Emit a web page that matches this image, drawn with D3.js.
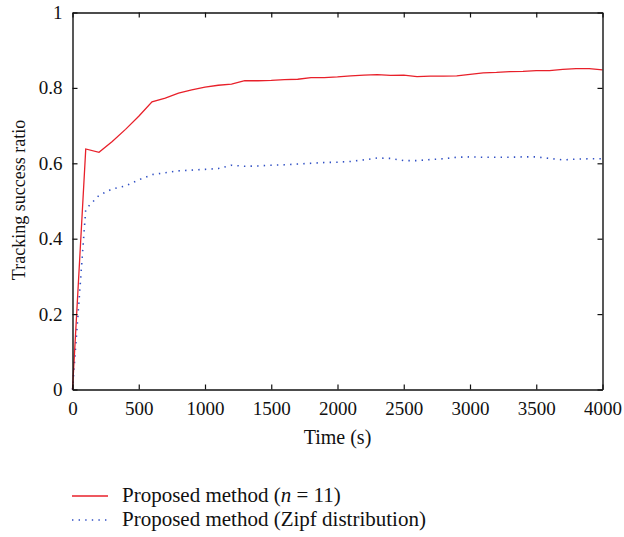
<!DOCTYPE html>
<html>
<head>
<meta charset="UTF-8">
<title>Tracking success ratio</title>
<script src="https://cdnjs.cloudflare.com/ajax/libs/d3/7.8.5/d3.min.js"></script>
<style>
  body { margin: 0; background: #fff; }
  text { font-family: "Liberation Serif", "DejaVu Serif", serif; fill: #111; }
</style>
</head>
<body>
<svg id="chart" width="624" height="537"></svg>
<script>
// time in seconds
var times = [0, 100, 200, 300, 400, 500, 600, 700, 800, 900, 1000,
  1100, 1200, 1300, 1400, 1500, 1600, 1700, 1800, 1900, 2000,
  2100, 2200, 2300, 2400, 2500, 2600, 2700, 2800, 2900, 3000,
  3100, 3200, 3300, 3400, 3500, 3600, 3700, 3800, 3900, 4000];

var proposedN11 = [0, 0.638, 0.629, 0.658, 0.690, 0.725, 0.763, 0.773, 0.786, 0.795, 0.802,
  0.807, 0.810, 0.819, 0.819, 0.820, 0.822, 0.823, 0.827, 0.827, 0.829,
  0.832, 0.834, 0.835, 0.833, 0.834, 0.830, 0.831, 0.831, 0.832, 0.836,
  0.840, 0.841, 0.843, 0.844, 0.846, 0.846, 0.849, 0.851, 0.851, 0.848];

var proposedZipf = [0, 0.478, 0.515, 0.532, 0.540, 0.556, 0.570, 0.575, 0.580, 0.582, 0.584,
  0.586, 0.595, 0.592, 0.593, 0.595, 0.596, 0.598, 0.600, 0.602, 0.603,
  0.605, 0.609, 0.614, 0.613, 0.607, 0.607, 0.610, 0.612, 0.616, 0.617,
  0.616, 0.616, 0.616, 0.617, 0.617, 0.613, 0.609, 0.611, 0.612, 0.612];

var xTicks = [0, 500, 1000, 1500, 2000, 2500, 3000, 3500, 4000];
var yTicks = [0, 0.2, 0.4, 0.6, 0.8, 1];
var seriesNames = ["Proposed method (n = 11)", "Proposed method (Zipf distribution)"];

var svg = d3.select("#chart");
var plotLeft = 72.5, plotRight = 602.5, plotTop = 12.5, plotBottom = 389.5;

var x = d3.scaleLinear().domain([0, 4000]).range([plotLeft, plotRight]);
var y = d3.scaleLinear().domain([0, 1]).range([plotBottom, plotTop]);

// lines
var line = d3.line()
  .x(function (d) { return x(d[0]); })
  .y(function (d) { return y(d[1]); });

svg.append("path")
  .datum(d3.zip(times, proposedZipf))
  .attr("d", line)
  .attr("fill", "none")
  .attr("stroke", "#2f4fc4")
  .attr("stroke-width", 1.6)
  .attr("stroke-dasharray", "1.4,5.2");

svg.append("path")
  .datum(d3.zip(times, proposedN11))
  .attr("d", line)
  .attr("fill", "none")
  .attr("stroke", "#e8202a")
  .attr("stroke-width", 1.3);

// axes, ticks inside on all sides
var fmtY = function (d) { return d === 0 || d === 1 ? String(d) : d.toFixed(1); };

svg.append("g")
  .attr("transform", "translate(0," + plotBottom + ")")
  .call(d3.axisBottom(x).tickValues(xTicks).tickSizeInner(-5).tickSizeOuter(0).tickPadding(12).tickFormat(d3.format("d")));
svg.append("g")
  .attr("transform", "translate(0," + plotTop + ")")
  .call(d3.axisTop(x).tickValues(xTicks).tickSizeInner(-5).tickSizeOuter(0).tickFormat(""));
svg.append("g")
  .attr("transform", "translate(" + plotLeft + ",0)")
  .call(d3.axisLeft(y).tickValues(yTicks).tickSizeInner(-5).tickSizeOuter(0).tickPadding(10).tickFormat(fmtY));
svg.append("g")
  .attr("transform", "translate(" + plotRight + ",0)")
  .call(d3.axisRight(y).tickValues(yTicks).tickSizeInner(-5).tickSizeOuter(0).tickFormat(""));

svg.selectAll(".domain").attr("stroke", "#111").attr("stroke-width", 1.4);
svg.selectAll(".tick line").attr("stroke", "#111").attr("stroke-width", 1.2);
svg.selectAll(".tick text")
  .style("font-family", "'Liberation Serif', 'DejaVu Serif', serif")
  .style("font-size", "19px")
  .attr("fill", "#111");

// axis titles
svg.append("text")
  .attr("x", (plotLeft + plotRight) / 2)
  .attr("y", 444)
  .attr("text-anchor", "middle")
  .style("font-size", "20px")
  .text("Time (s)");

svg.append("text")
  .attr("transform", "translate(25,200) rotate(-90)")
  .attr("text-anchor", "middle")
  .style("font-size", "18px")
  .text("Tracking success ratio");

// legend
var legend = svg.append("g");
var legendY = [496, 520];
legend.append("line")
  .attr("x1", 72).attr("x2", 108).attr("y1", legendY[0]).attr("y2", legendY[0])
  .attr("stroke", "#e8202a").attr("stroke-width", 1.3);
legend.append("line")
  .attr("x1", 72).attr("x2", 108).attr("y1", legendY[1]).attr("y2", legendY[1])
  .attr("stroke", "#2f4fc4").attr("stroke-width", 1.6).attr("stroke-dasharray", "1.4,5.2");

var t1 = legend.append("text").attr("x", 122).attr("y", legendY[0] + 6).style("font-size", "21px");
t1.append("tspan").text("Proposed method (");
t1.append("tspan").style("font-style", "italic").text("n");
t1.append("tspan").text(" = 11)");

legend.append("text").attr("x", 122).attr("y", legendY[1] + 6).style("font-size", "21px")
  .text(seriesNames[1]);
</script>
</body>
</html>
